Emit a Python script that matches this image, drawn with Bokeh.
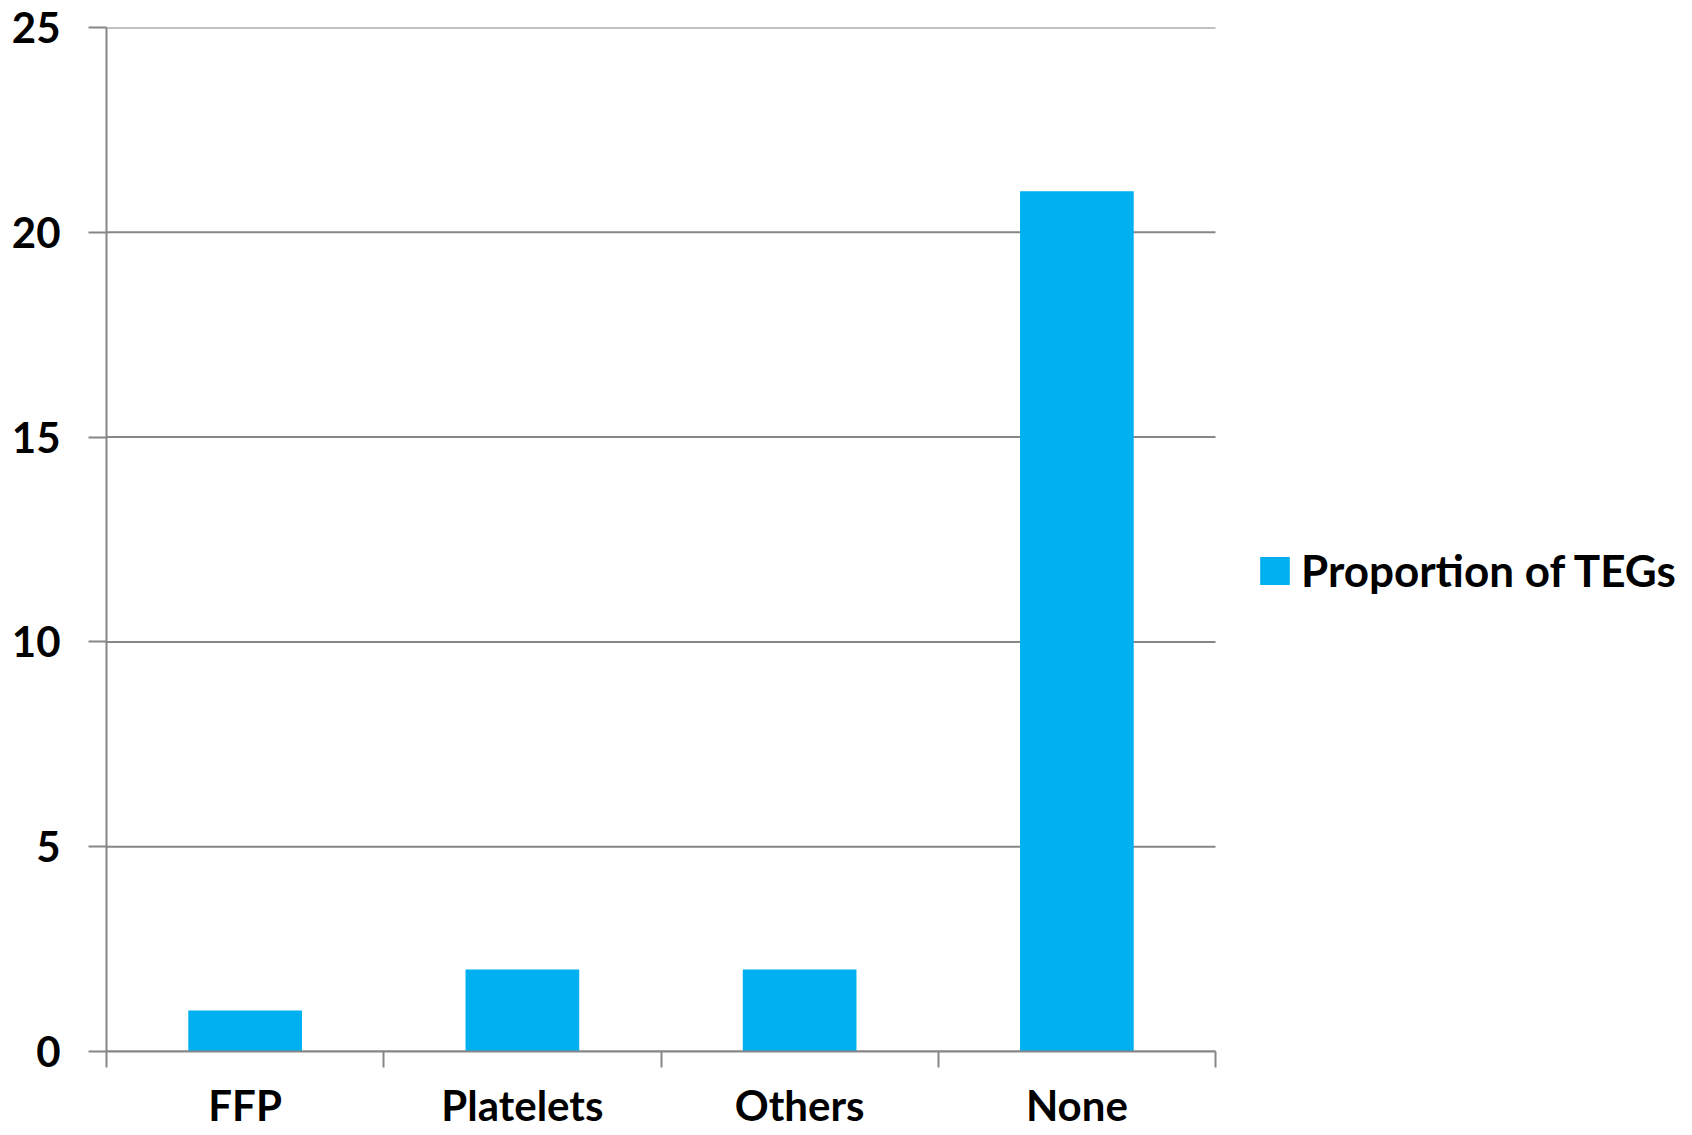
from bokeh.plotting import figure
from bokeh.models import Range1d, FixedTicker, Legend, LegendItem
from bokeh.embed import file_html
from bokeh.resources import INLINE

categories = ["FFP", "Platelets", "Others", "None"]
values = [1, 2, 2, 21]
y_ticks = [0, 5, 10, 15, 20, 25]
series_name = "Proportion of TEGs"

BAR = "#00B0F0"
GRAY = "#868686"
FONT = "Lato"

W, H = 1692, 1135
LEFT, BOTTOM, TOP = 106, 84, 27
AXIS_RIGHT_PX = 1215  # where the category axis ends
n = len(categories)
x_pos = [i + 0.5 for i in range(n)]
# frame spans to the right edge so the legend can sit inside it
x_end = n * (W - LEFT) / (AXIS_RIGHT_PX - LEFT)

p = figure(width=W, height=H, x_range=Range1d(0, x_end), y_range=Range1d(0, 25),
           output_backend="svg", toolbar_location=None,
           min_border_left=LEFT, min_border_right=0, min_border_top=TOP, min_border_bottom=BOTTOM)
p.outline_line_color = None
p.background_fill_color = "white"
p.border_fill_color = "white"
p.xgrid.grid_line_color = None
p.ygrid.grid_line_color = None

# horizontal gridlines limited to the category area
p.segment(x0=[0] * len(y_ticks), x1=[n] * len(y_ticks), y0=y_ticks, y1=y_ticks,
          line_color=GRAY, line_width=2, level="underlay")

r = p.vbar(x=x_pos, top=values, width=0.41, color=BAR, line_color=None)

# y axis
ya = p.yaxis[0]
ya.ticker = FixedTicker(ticks=y_ticks)
ya.axis_line_color = GRAY
ya.axis_line_width = 2
ya.major_tick_line_color = GRAY
ya.major_tick_line_width = 2
ya.major_tick_out = 18
ya.major_tick_in = 0
ya.minor_tick_line_color = None
ya.major_label_text_font = FONT
ya.major_label_text_font_style = "bold"
ya.major_label_text_font_size = "42px"
ya.major_label_text_color = "black"
ya.major_label_standoff = 28

# x axis
xa = p.xaxis[0]
xa.bounds = (0, n)
xa.ticker = FixedTicker(ticks=x_pos, minor_ticks=list(range(n + 1)))
xa.major_label_overrides = {x: c for x, c in zip(x_pos, categories)}
xa.axis_line_color = GRAY
xa.axis_line_width = 2
xa.major_tick_line_color = None
xa.major_tick_out = 0
xa.major_tick_in = 0
xa.minor_tick_line_color = GRAY
xa.minor_tick_line_width = 2
xa.minor_tick_out = 16
xa.minor_tick_in = 0
xa.major_label_text_font = FONT
xa.major_label_text_font_style = "bold"
xa.major_label_text_font_size = "42px"
xa.major_label_text_color = "black"
xa.major_label_standoff = 12

legend = Legend(items=[LegendItem(label=series_name, renderers=[r])],
                location=(1150, 455), orientation="vertical",
                padding=0, margin=0, border_line_color=None, background_fill_alpha=0,
                glyph_width=37, glyph_height=35, label_height=27, label_standoff=8,
                label_text_font=FONT, label_text_font_style="bold",
                label_text_font_size="44px", label_text_color="black")
p.add_layout(legend, "center")

open("out.html", "w").write(file_html(p, INLINE))
